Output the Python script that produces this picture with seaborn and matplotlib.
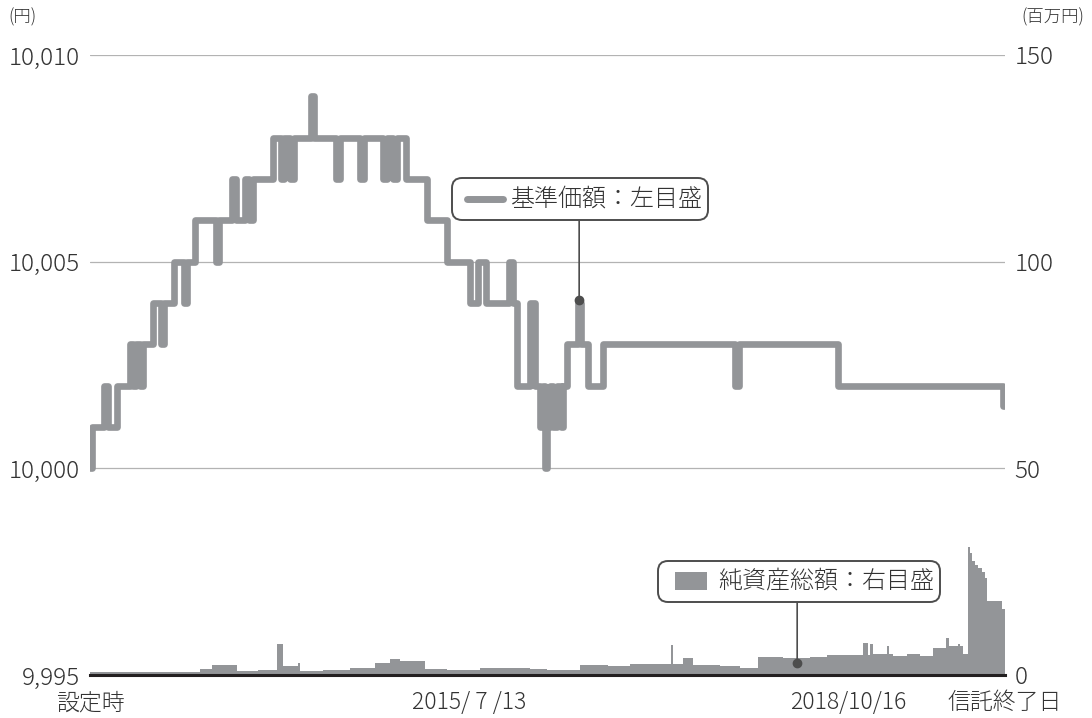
import matplotlib
matplotlib.use("Agg")
import matplotlib.pyplot as plt
from matplotlib.patches import FancyBboxPatch, Rectangle
from matplotlib.lines import Line2D
import seaborn as sns
import pandas as pd

sns.set_theme(style="white")
plt.rcParams["font.family"] = ["Noto Sans CJK JP", "DejaVu Sans"]
plt.rcParams["font.weight"] = "light"

GRAY = "#939598"
DARK = "#4d4d4d"
TXT = "#333333"

# x axis: days since launch
launch = pd.Timestamp("2012-04-08")
end_day = 2875
tick_dates = ["2015-07-13", "2018-10-16"]
tick_names = ["設定時", "2015/ 7 /13", "2018/10/16", "信託終了日"]

# 基準価額 (yen), step changes: day -> value
nav_days = [0, 6, 44, 57, 85, 126, 135, 145, 157, 167, 198, 223, 233, 264, 295,
            305, 330, 396, 405, 446, 459, 487, 500, 512, 575, 600, 610, 629,
            641, 694, 704, 773, 786, 848, 861, 921, 933, 952, 965, 993, 1059,
            1122, 1194, 1219, 1244, 1317, 1329, 1342, 1383, 1398, 1414, 1424,
            1430, 1436, 1446, 1455, 1468, 1480, 1486, 1499, 1534, 1543, 1565,
            1612, 2027, 2039, 2351, 2869]
nav_values = [10000, 10001, 10002, 10001, 10002, 10003, 10002, 10003, 10002,
              10003, 10004, 10003, 10004, 10005, 10004, 10005, 10006, 10005,
              10006, 10007, 10006, 10007, 10006, 10007, 10008, 10007, 10008,
              10007, 10008, 10009, 10008, 10007, 10008, 10007, 10008, 10007,
              10008, 10007, 10008, 10007, 10006, 10005, 10004, 10005, 10004,
              10005, 10004, 10002, 10004, 10002, 10001, 10002, 10000, 10001,
              10002, 10001, 10002, 10001, 10002, 10003, 10004, 10003, 10002,
              10003, 10002, 10003, 10002, 10001.5]

# 純資産総額 (million yen), step changes: day -> value
aum_days = [0, 346, 383, 462, 528, 588, 606, 654, 660, 732, 817, 896, 943, 974,
            1053, 1122, 1226, 1383, 1436, 1540, 1628, 1697, 1826, 1832, 1864,
            1895, 1980, 2043, 2099, 2178, 2263, 2316, 2429, 2445, 2451, 2461,
            2505, 2511, 2523, 2567, 2608, 2649, 2690, 2699, 2728, 2734, 2743,
            2759, 2765, 2772, 2781, 2790, 2803, 2812, 2819, 2866]
aum_values = [0.8, 1.5, 2.4, 1.0, 1.1, 7.5, 2.2, 3.0, 1.05, 1.3, 1.6, 2.8, 3.8,
              3.3, 1.4, 1.1, 1.6, 1.5, 1.2, 2.4, 2.2, 2.6, 7.3, 2.7, 4.0, 2.4,
              2.1, 1.8, 4.3, 4.1, 4.4, 4.8, 7.7, 4.8, 7.5, 5.2, 7.0, 5.2, 4.6,
              5.2, 4.6, 6.5, 8.9, 6.9, 7.5, 6.9, 5.2,
              31.0, 29.5, 27.5, 26.5, 25.8, 25.0, 23.5, 18.0, 16.0]

# callout anchor points
nav_pin = (1537, 10004.08)
aum_pin = (2222, 2.9)

nav = pd.DataFrame({"day": nav_days + [end_day],
                    "nav": nav_values + [nav_values[-1]]})
aum = pd.DataFrame({"day": aum_days + [end_day],
                    "aum": aum_values + [aum_values[-1]]})

fig = plt.figure(figsize=(10.92, 7.18), dpi=100)
ax = fig.add_axes([90 / 1092, 43 / 718, 915 / 1092, 620 / 718])
ax2 = ax.twinx()
ax.set_zorder(ax2.get_zorder() + 1)
ax.patch.set_visible(False)

ax2.fill_between(aum["day"], aum["aum"], step="post", color=GRAY, lw=0)
sns.lineplot(data=nav, x="day", y="nav", ax=ax, estimator=None,
             drawstyle="steps-post", color=GRAY, lw=4.8,
             solid_capstyle="round", solid_joinstyle="round")

ax.set_xlim(0, end_day)
ax.set_ylim(9995, 10010)
ax2.set_ylim(0, 150)
ax.set_xlabel("")
ax.set_ylabel("")

yt = [9995, 10000, 10005, 10010]
ax.set_yticks(yt)
ax.set_yticklabels([f"{v:,}" for v in yt])
ax2.set_yticks([0, 50, 100, 150])
ax.grid(axis="y", color="#b3b3b3", lw=0.9)
ax.grid(axis="x", visible=False)
ax2.grid(False)

xt = [0] + [(pd.Timestamp(d) - launch).days for d in tick_dates] + [end_day]
ax.set_xticks(xt)
ax.set_xticklabels(tick_names)
ax.xaxis.get_major_ticks()[-1].tick1line.set_visible(False)

for s in ["top", "left", "right"]:
    ax.spines[s].set_visible(False)
ax.spines["bottom"].set_color("#231f20")
ax.spines["bottom"].set_linewidth(2.2)
for s in ax2.spines.values():
    s.set_visible(False)

ax.tick_params(axis="y", length=0, pad=7, labelsize=17.5, labelcolor=TXT)
ax.tick_params(axis="x", direction="in", length=7, width=2, color="#231f20",
               pad=11, labelsize=16.5, labelcolor=TXT)
ax2.tick_params(axis="y", length=0, pad=7, labelsize=17.5, labelcolor=TXT)

fig.text(8 / 1092, 1 - 17 / 718, "(円)", fontsize=12.5, va="center", color=TXT)
fig.text(1084 / 1092, 1 - 17 / 718, "(百万円)", fontsize=12.5, va="center",
         ha="right", color=TXT)

inch = fig.dpi_scale_trans

# callout: 基準価額
ax.add_patch(FancyBboxPatch((4.52, 4.98), 2.56, 0.42,
                            boxstyle="round,pad=0,rounding_size=0.1",
                            transform=inch, fc="white", ec=DARK, lw=1.4,
                            zorder=6))
ax.add_line(Line2D([4.67, 5.03], [5.19, 5.19], transform=inch, color=GRAY,
                   lw=5, solid_capstyle="round", zorder=7))
ax.text(5.11, 5.19, "基準価額：左目盛", transform=inch, fontsize=17.3,
        va="center", ha="left", color=TXT, zorder=7)
ax.annotate("", xy=nav_pin, xycoords="data",
            xytext=(nav_pin[0], (675 - 220) / 620),
            textcoords=ax.get_xaxis_transform(),
            arrowprops=dict(arrowstyle="-", color=DARK, lw=1.2,
                            shrinkA=0, shrinkB=0), zorder=5)
ax.plot([nav_pin[0]], [nav_pin[1]], "o", ms=6, color=DARK, zorder=6)

# callout: 純資産総額
ax.add_patch(FancyBboxPatch((6.58, 1.16), 2.82, 0.41,
                            boxstyle="round,pad=0,rounding_size=0.1",
                            transform=inch, fc="white", ec=DARK, lw=1.4,
                            zorder=6))
ax.add_patch(Rectangle((6.75, 1.28), 0.32, 0.18, transform=inch, fc=GRAY,
                       lw=0, zorder=7))
ax.text(7.18, 1.37, "純資産総額：右目盛", transform=inch, fontsize=17.3,
        va="center", ha="left", color=TXT, zorder=7)
ax2.annotate("", xy=aum_pin, xycoords="data",
             xytext=(aum_pin[0], (675 - 602) / 620),
             textcoords=ax2.get_xaxis_transform(),
             arrowprops=dict(arrowstyle="-", color=DARK, lw=1.2,
                             shrinkA=0, shrinkB=0), zorder=5)
ax2.plot([aum_pin[0]], [aum_pin[1]], "o", ms=6, color=DARK, zorder=6)

fig.savefig("out.png", dpi=100)
